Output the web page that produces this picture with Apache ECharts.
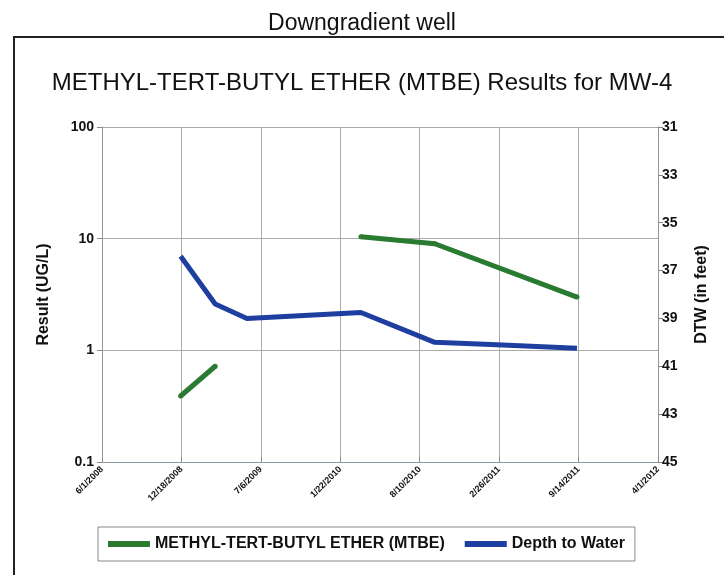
<!DOCTYPE html>
<html>
<head>
<meta charset="utf-8">
<script src="https://cdn.jsdelivr.net/npm/echarts@6/dist/echarts.min.js"></script>
<style>html,body{margin:0;padding:0;background:#fff;}#c{width:724px;height:575px;}</style>
</head>
<body>
<div id="c"></div>
<script>
// Data
var xTickLabels = ['6/1/2008','12/18/2008','7/6/2009','1/22/2010','8/10/2010','2/26/2011','9/14/2011','4/1/2012'];
var mtbeDates = ['2008-12-16','2009-03-13',null,'2010-03-15','2010-09-17','2011-09-10'];
var mtbeValues = [0.39, 0.72, null, 10.4, 9.0, 3.0];
var dtwDates = ['2008-12-16','2009-03-13','2009-06-01','2010-03-15','2010-09-17','2011-02-20','2011-09-10'];
var dtwValues = [36.4, 38.4, 39.0, 38.75, 40.0, 40.1, 40.25];

var origin = Date.UTC(2008,5,1);
function dayOf(s){ var p=s.split('-'); return (Date.UTC(+p[0],+p[1]-1,+p[2]) - origin)/86400000; }
function pairs(ds, vs){ return ds.map(function(d,i){ return d===null ? [null,null] : [dayOf(d), vs[i]]; }); }

var chart = echarts.init(document.getElementById('c'));
var font = '"Liberation Sans", Arial, sans-serif';
chart.setOption({
  backgroundColor:'#fff',
  animation:false,
  textStyle:{fontFamily:font},
  title:[
    {text:'Downgradient well', left:'center', top:7, textStyle:{fontSize:23, fontWeight:'normal', color:'#111', fontFamily:font}},
    {text:'METHYL-TERT-BUTYL ETHER (MTBE) Results for MW-4', left:'center', top:66, textStyle:{fontSize:24, fontWeight:'normal', color:'#111', fontFamily:font}}
  ],
  graphic:[
    {type:'rect', shape:{x:14,y:37,width:720,height:550}, style:{fill:'none', stroke:'#222', lineWidth:2}, silent:true}
  ],
  legend:{
    left:98, top:527,
    padding:[9,10,9,10],
    borderColor:'#888', borderWidth:1,
    itemWidth:42, itemHeight:6, itemGap:20,
    textStyle:{fontSize:16, fontWeight:'bold', color:'#111', fontFamily:font},
    data:[{name:'METHYL-TERT-BUTYL ETHER (MTBE)', icon:'rect'},{name:'Depth to Water', icon:'rect'}]
  },
  grid:{left:102, right:66, top:127, bottom:113},
  xAxis:{
    type:'value', min:0, max:1400, interval:200,
    axisLine:{show:true, lineStyle:{color:'#8a9aa0'}},
    axisTick:{show:true, inside:true, length:5, lineStyle:{color:'#888'}},
    splitLine:{show:true, lineStyle:{color:'#aaa', width:1}},
    axisLabel:{rotate:45, fontSize:9, fontWeight:'bold', color:'#111', margin:6,
      formatter:function(v){ return xTickLabels[Math.round(v/200)] || ''; }}
  },
  yAxis:[
    {type:'log', logBase:10, min:0.1, max:100, position:'left',
     name:'Result (UG/L)', nameLocation:'middle', nameGap:50, nameRotate:90,
     nameTextStyle:{fontSize:16, fontWeight:'bold', color:'#111'},
     axisLine:{show:true, lineStyle:{color:'#8a9aa0'}},
     axisTick:{show:true, length:5, lineStyle:{color:'#888'}},
     splitLine:{show:true, lineStyle:{color:'#aaa'}},
     minorTick:{show:false},
     axisLabel:{fontSize:14, fontWeight:'bold', color:'#111', margin:8,
       formatter:function(v){ return v<1 ? String(+v.toFixed(1)) : String(Math.round(v)); }}
    },
    {type:'value', min:31, max:45, interval:2, inverse:true, position:'right',
     name:'DTW (in feet)', nameLocation:'middle', nameGap:36, nameRotate:90,
     nameTextStyle:{fontSize:16, fontWeight:'bold', color:'#111'},
     axisLine:{show:true, lineStyle:{color:'#8a9aa0'}},
     axisTick:{show:true, length:5, lineStyle:{color:'#888'}},
     splitLine:{show:false},
     axisLabel:{fontSize:14, fontWeight:'bold', color:'#111', margin:4}
    }
  ],
  series:[
    {name:'METHYL-TERT-BUTYL ETHER (MTBE)', type:'line', yAxisIndex:0,
     data:pairs(mtbeDates, mtbeValues), connectNulls:false,
     lineStyle:{color:'#2a7a32', width:5}, itemStyle:{color:'#2a7a32'},
     symbol:'circle', symbolSize:5, showSymbol:true},
    {name:'Depth to Water', type:'line', yAxisIndex:1,
     data:pairs(dtwDates, dtwValues),
     lineStyle:{color:'#1f3fa0', width:5}, itemStyle:{color:'#1f3fa0'},
     symbol:'none'}
  ]
});
</script>
</body>
</html>
